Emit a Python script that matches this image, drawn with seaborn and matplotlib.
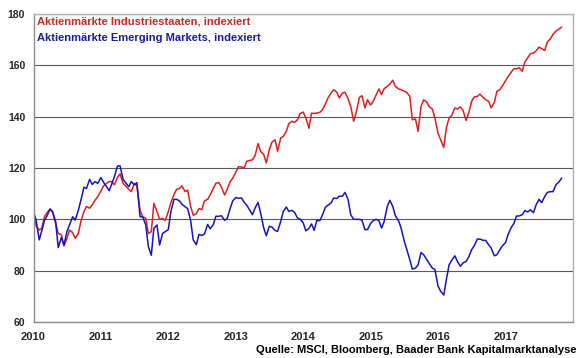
import numpy as np
import pandas as pd
import matplotlib
matplotlib.use("Agg")
import matplotlib.pyplot as plt
import seaborn as sns

# ---------------- data (semi-monthly) ----------------
industrie = [
    103, 97.5, 95.8, 96.5, 101, 102.6, 104, 102.6, 98.4, 94.5, 94, 89.6, 92.6, 95.8, 94.8, 92.6,
    94.5, 99.3, 103, 105, 104.3, 105.6, 107.5, 108.8,
    111, 113, 114, 114.7, 114.7, 113.4, 116.4, 117.7, 114, 113, 111.7, 110.8, 114, 113, 103.6, 101,
    100.4, 94.5, 95.2, 106.2, 103, 100, 100.4, 99.5,
    103, 106.5, 109.7, 111.7, 112, 113, 110.8, 111.4, 105.1, 101.6, 102.2, 104.2, 103.8, 107.2,
    107.8, 109.5, 112.1, 114.1, 114.3, 112.5, 109.5, 111.7, 114.7, 116,
    118.5, 120.5, 120.4, 120, 122.6, 122.9, 123.2, 124.8, 129.5, 126.5, 125.2, 122, 127.1, 130,
    131, 126.5, 131.7, 132.3, 134.3, 137.3, 138.2, 137.8, 138.8, 141.2,
    141.8, 139.5, 135.5, 141.4, 141.2, 141.4, 141.7, 142.7, 145, 147.3, 149.2, 150.5, 149.6, 147.3,
    149.2, 149.5, 146.9, 144, 138.2, 141.7, 147.5, 148.2, 143.4, 146.6,
    144.5, 146, 148.6, 150.8, 148.6, 150.9, 151.8, 152.7, 154.2, 151.8, 150.8, 150.5, 149.9, 149.5,
    147.9, 138.8, 139.1, 134.3, 144, 146.6, 145.7, 143.8, 143, 139.5,
    133.5, 131, 128, 135.6, 139.5, 140.4, 143.4, 143, 143.8, 142.5, 138.5, 141.4, 146, 147.7,
    147.9, 148.8, 147.5, 146.6, 146, 143.4, 145.6, 149.9, 150.5, 152,
    154, 155.7, 157.4, 158.7, 158.6, 159.1, 157.7, 161.3, 163, 164.5, 164.8, 165.6, 167.1, 166.5,
    165.8, 169.1, 170.4, 172.1, 173.4, 174, 174.9,
]
emerging = [
    103, 99.7, 92, 95.6, 99.5, 101.3, 104, 103, 99, 89, 93, 90, 95.2, 97.8, 101, 99.7,
    103.6, 107.5, 112.5, 112, 115.6, 113.6, 114.7, 114,
    116.3, 114.5, 112.7, 111.2, 113.8, 116.6, 120.8, 120.8, 115.6, 114.3, 112.7, 114.7, 113.4, 114.3,
    101, 101, 97.8, 89.4, 86, 96.5, 97.8, 90, 94.5, 95.2,
    96, 103, 107.8, 107.8, 107.2, 105.9, 104.9, 104.2, 99.6, 92, 90.1, 94.1, 93.7, 94.3,
    98, 96.3, 98, 101.2, 101.2, 101.4, 99.6, 100.3, 104.2, 107.2,
    108.5, 108.2, 108.3, 106.6, 105.5, 103.8, 101.8, 104.4, 106.6, 102.5, 96.6, 93.6, 97.3, 97,
    95.7, 95.3, 99.2, 103.1, 104.8, 103.1, 103.5, 102.7, 100.5, 100.1,
    98.6, 95.5, 96.5, 98.2, 95.7, 99.5, 99.5, 101.7, 104.7, 105.5, 106.4, 108.3, 108.1, 109,
    109, 110.5, 107.7, 101.8, 100, 100, 100, 99.7, 96, 96,
    98.4, 99.5, 100, 99.5, 96.6, 99.1, 105, 107.4, 105, 101.4, 99.5, 96.6, 91.8, 88.4,
    84.3, 80.6, 81, 82.3, 87.1, 86.2, 84.3, 82.7, 81, 80.5,
    74, 72, 70.5, 76.5, 82.3, 84, 85.8, 83.6, 81.7, 83, 83.6, 85.3, 88.2, 89.7,
    92.3, 92.3, 91.8, 91.8, 90.1, 88.8, 85.8, 86.2, 88.2, 89.7,
    91, 94.2, 96.9, 98.4, 101.3, 101.3, 101.8, 103.4, 102.9, 103.7, 102.6, 105.6, 107.8, 106.5,
    108.9, 110.5, 110.8, 110.8, 113.5, 114.4, 116.1,
]
dates = pd.date_range("2010-01-01", periods=len(industrie), freq="SMS")
year_labels = ["2010", "2011", "2012", "2013", "2014", "2015", "2016", "2017"]
label_ind = "Aktienmärkte Industriestaaten, indexiert"
label_em = "Aktienmärkte Emerging Markets, indexiert"
source = "Quelle: MSCI, Bloomberg, Baader Bank Kapitalmarktanalyse"

df = pd.DataFrame({"date": dates, "ind": industrie, "em": emerging})

# ---------------- style ----------------
sns.set_style("white")
plt.rcParams["font.family"] = ["Liberation Sans", "DejaVu Sans"]

RED = "#E01E1E"
BLUE = "#1515C0"

W, H = 580, 358
fig = plt.figure(figsize=(W / 100, H / 100), dpi=100)
L, R, T, B = 33.5, 573, 14, 322
ax = fig.add_axes([L / W, 1 - B / H, (R - L) / W, (B - T) / H])

ax.set_ylim(60, 180)
ax.set_xlim(pd.Timestamp("2010-01-01"), pd.Timestamp("2018-01-01"))
ax.set_yticks(range(60, 181, 20))
ax.yaxis.grid(True, color="#5a5a5a", lw=0.8)
ax.set_axisbelow(True)

sns.lineplot(data=df, x="date", y="ind", color=RED, lw=1.1, ax=ax, legend=False)
sns.lineplot(data=df, x="date", y="em", color=BLUE, lw=1.1, ax=ax, legend=False)

ax.set_xlabel("")
ax.set_ylabel("")
xt = [pd.Timestamp(f"{y}-01-01") for y in range(2010, 2019)]
ax.set_xticks(xt)
ax.set_xticklabels(year_labels + [""])

for s in ["left", "bottom"]:
    ax.spines[s].set_color("#8c8c8c")
    ax.spines[s].set_linewidth(1.0)
for s in ["top", "right"]:
    ax.spines[s].set_color("#b0b0b0")
    ax.spines[s].set_linewidth(1.0)

ax.tick_params(axis="both", which="major", length=4, width=0.8, color="#8c8c8c",
               direction="out")
ax.tick_params(axis="x", pad=3, labelsize=8)
ax.tick_params(axis="y", pad=2, labelsize=7.5)
for lab in ax.get_xticklabels() + ax.get_yticklabels():
    lab.set_fontweight("bold")

fig.text(37 / W, 1 - 22 / H, label_ind, color="#D42424", fontsize=8,
         fontweight="bold", va="center", ha="left")
fig.text(37 / W, 1 - 38 / H, label_em, color="#1A1AA8", fontsize=8,
         fontweight="bold", va="center", ha="left")
fig.text(577 / W, 1 - 350 / H, source, color="black", fontsize=8,
         fontweight="bold", va="center", ha="right")

fig.savefig("out.png", dpi=100)
